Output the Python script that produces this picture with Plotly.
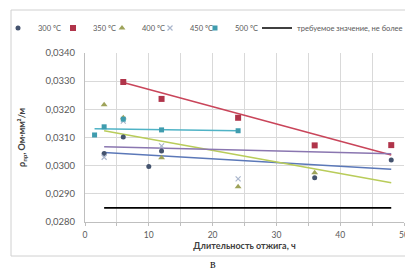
import plotly.graph_objects as go

# --- data ---
x300 = [3, 6, 10, 12, 36, 48]
y300 = [0.03043, 0.03102, 0.02997, 0.03052, 0.02957, 0.03020]
x350 = [6, 12, 24, 36, 48]
y350 = [0.03297, 0.03237, 0.03170, 0.03072, 0.03073]
x400 = [3, 6, 12, 24, 36]
y400 = [0.03216, 0.03170, 0.03028, 0.02925, 0.02975]
x450 = [3, 6, 12, 24]
y450 = [0.03030, 0.03158, 0.03070, 0.02953]
x500 = [1.5, 3, 6, 12, 24]
y500 = [0.03109, 0.03138, 0.03165, 0.03127, 0.03124]

# trend lines (start/end) as read
tr300_x = [3, 48]; tr300_y = [0.03047, 0.02987]
tr350_x = [6, 48]; tr350_y = [0.03295, 0.03038]
tr400_x = [3, 48]; tr400_y = [0.03124, 0.02939]
tr450_x = [3, 48]; tr450_y = [0.03067, 0.03042]
tr500_x = [1.5, 24]; tr500_y = [0.03131, 0.03124]

req_x = [3, 48]; req_y = [0.0285, 0.0285]

names = ["300 ºC", "350 ºC", "400 ºC", "450 ºC", "500 ºC"]
req_name = "требуемое значение, не более"

FONT = "Lato"
fig = go.Figure()

for tx, ty, col in [(tr300_x, tr300_y, "#5b78b8"), (tr350_x, tr350_y, "#c9455a"),
                    (tr400_x, tr400_y, "#b9cc5a"), (tr450_x, tr450_y, "#8a76b0"),
                    (tr500_x, tr500_y, "#4fb3c6")]:
    fig.add_trace(go.Scatter(x=tx, y=ty, mode="lines", line=dict(color=col, width=1.5),
                             showlegend=False, hoverinfo="skip"))

fig.add_trace(go.Scatter(x=x300, y=y300, mode="markers", name=names[0], legend="legend",
                         marker=dict(symbol="circle", size=5, color="#44536e")))
fig.add_trace(go.Scatter(x=x350, y=y350, mode="markers", name=names[1], legend="legend2",
                         marker=dict(symbol="square", size=6, color="#b0344a")))
fig.add_trace(go.Scatter(x=x400, y=y400, mode="markers", name=names[2], legend="legend3",
                         marker=dict(symbol="triangle-up", size=6, color="#9ea35a")))
fig.add_trace(go.Scatter(x=x450, y=y450, mode="markers", name=names[3], legend="legend4",
                         marker=dict(symbol="x-thin", size=5, color="#aab6cc",
                                     line=dict(width=1.2, color="#aab6cc"))))
fig.add_trace(go.Scatter(x=x500, y=y500, mode="markers", name=names[4], legend="legend5",
                         marker=dict(symbol="square", size=5, color="#3f9cae")))
fig.add_trace(go.Scatter(x=req_x, y=req_y, mode="lines", name=req_name, legend="legend6",
                         line=dict(color="black", width=1.6)))

W, H = 413, 270
L, R, T, B = 77, 17, 45, 56
pw, ph = W - L - R, H - T - B

def px(xp):
    return (xp - L) / pw

def py(yp):
    return (H - B - yp) / ph

fig.add_shape(type="rect", xref="paper", yref="paper",
              x0=px(3), x1=px(410), y0=py(248), y1=py(2),
              line=dict(color="#d0d0d0", width=1), fillcolor="rgba(0,0,0,0)", layer="below")

fig.add_annotation(text="в", xref="paper", yref="paper", x=px(205), y=py(256),
                   xanchor="center", yanchor="middle",
                   showarrow=False, font=dict(family="Liberation Serif", size=12, color="#222"))

leg_font = dict(family=FONT, size=7.5, color="#595959")

def leg(xpix):
    return dict(orientation="h", x=px(xpix), y=py(20), xanchor="left", yanchor="middle",
                font=leg_font, itemwidth=30, bgcolor="rgba(0,0,0,0)")

fig.update_layout(
    width=W, height=H,
    margin=dict(l=L, r=R, t=T, b=B, autoexpand=False),
    paper_bgcolor="white", plot_bgcolor="white",
    separators=", ",
    font=dict(family=FONT, size=8, color="#595959"),
    legend=leg(-10), legend2=leg(45), legend3=leg(94), legend4=leg(142),
    legend5=leg(187), legend6=leg(249),
    xaxis=dict(range=[0, 50], dtick=10, showgrid=True, gridcolor="#d9d9d9", gridwidth=1,
               minor=dict(dtick=5, showgrid=True, gridcolor="#d9d9d9", ticks="outside",
                          ticklen=3, tickcolor="#bfbfbf"),
               ticks="outside", ticklen=3, tickcolor="#bfbfbf", ticklabelstandoff=2,
               showline=True, linecolor="#bfbfbf", zeroline=False,
               tickfont=dict(family=FONT, size=8.5, color="#595959"),
               title=dict(text="<b>Длительность отжига, ч</b>", standoff=1,
                          font=dict(family=FONT, size=9, color="#404040"))),
    yaxis=dict(range=[0.028, 0.034], dtick=0.001, tickformat=".4f", showgrid=True,
               gridcolor="#d9d9d9", gridwidth=1, showline=True, linecolor="#bfbfbf",
               zeroline=False, ticks="", ticklabelstandoff=7,
               tickfont=dict(family=FONT, size=9.5, color="#595959"),
               title=dict(text="<b>ρ<sub>пр</sub>, Ом·мм²/м</b>", standoff=18,
                          font=dict(family=FONT, size=9, color="#404040"))),
)

fig.write_html("out.html")
